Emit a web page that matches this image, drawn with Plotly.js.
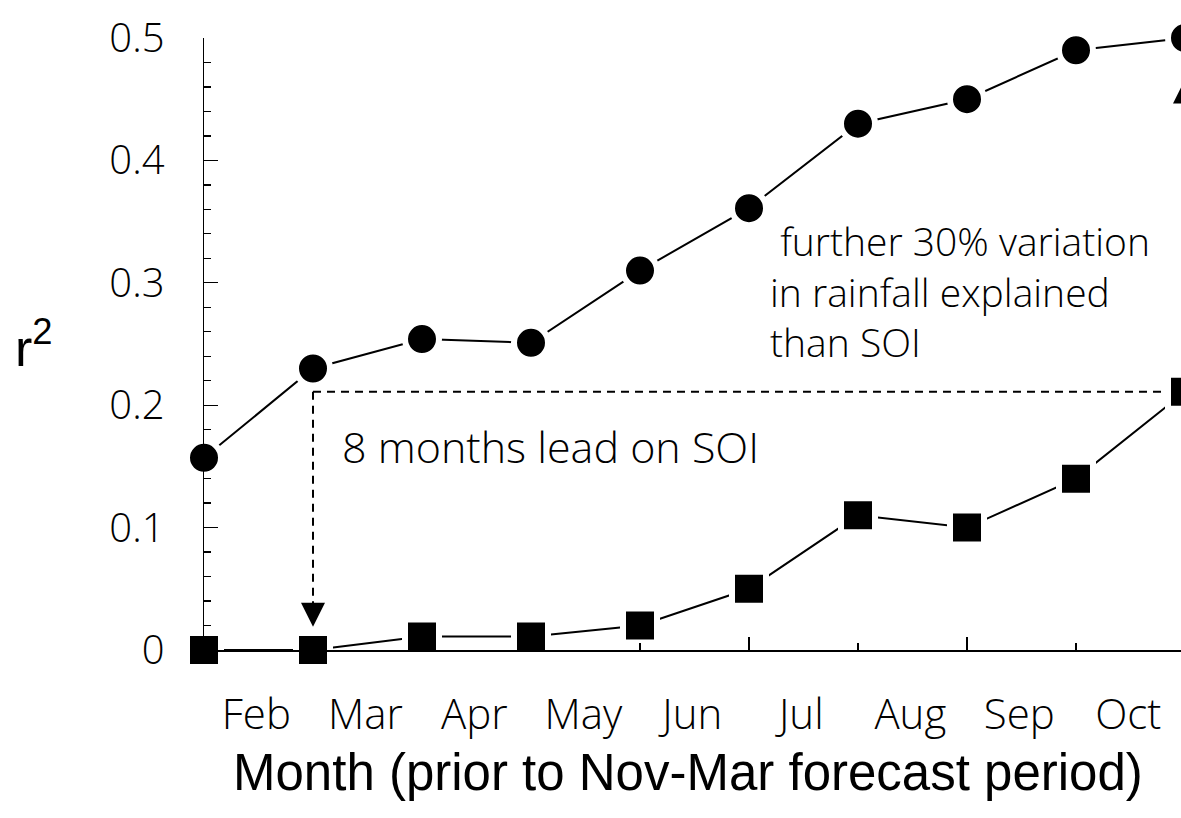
<!DOCTYPE html>
<html><head><meta charset="utf-8">
<script src="https://cdn.plot.ly/plotly-3.0.1.min.js"></script>
<style>html,body{margin:0;padding:0;background:#fff;overflow:hidden}</style>
</head><body><div id="chart" style="width:1210px;height:818px"></div>
<script>
// ---- data ----
const xIndex = [0, 1, 2, 3, 4, 5, 6, 7, 8, 9];
const monthLabels = ['Feb', 'Mar', 'Apr', 'May', 'Jun', 'Jul', 'Aug', 'Sep', 'Oct'];
const r2Rainfall = [0.157, 0.230, 0.254, 0.251, 0.310, 0.361, 0.430, 0.450, 0.490, 0.500];
const r2SOI = [0.000, 0.000, 0.011, 0.011, 0.020, 0.050, 0.110, 0.100, 0.140, 0.211];
const yTickVals = [0, 0.1, 0.2, 0.3, 0.4, 0.5];
const leadText = '8 months lead on SOI';
const gainText = ' further 30% variation<br>in rainfall explained<br>than SOI';
const xTitle = 'Month (prior to Nov-Mar forecast period)';

// ---- styling / layout ----
const figW = 1210, marginL = 204, pxPerMonth = 109;
const xRange = [0, (figW - marginL) / pxPerMonth];
const labelOffset = 0.48;
const monthPos = monthLabels.map((m, i) => i + labelOffset);
const majorX = xIndex.filter(v => v % 2 === 1);
const minorX = xIndex.filter(v => v % 2 === 0);
const light = {family: '"Open Sans", Lato, Roboto, sans-serif', size: 40, color: '#000', weight: 300};
const arial = {family: '"Liberation Sans", Arial, sans-serif', size: 51, color: '#000'};
const leadIdx = 1, lastIdx = xIndex.length - 1;

const markerBase = {color: '#000', size: 34, line: {color: '#fff', width: 6}};
const traces = [
  {x: xIndex, y: r2Rainfall, mode: 'lines+markers', cliponaxis: false,
   line: {color: '#000', width: 2}, marker: Object.assign({symbol: 'circle'}, markerBase), showlegend: false},
  {x: xIndex, y: r2SOI, mode: 'lines+markers', cliponaxis: false,
   line: {color: '#000', width: 2}, marker: Object.assign({symbol: 'square'}, markerBase), showlegend: false},
  {x: [], y: [], xaxis: 'x2', yaxis: 'y', showlegend: false, hoverinfo: 'skip'}
];

const annotations = [
  {x: xIndex[leadIdx], y: 0.019, xref: 'x', yref: 'y', text: '', showarrow: true,
   arrowhead: 2, arrowsize: 2.4, arrowwidth: 2, arrowcolor: '#000', ax: 0, ay: -27},
  {x: xIndex[lastIdx], y: 0.466, xref: 'x', yref: 'y', text: '', showarrow: true,
   arrowhead: 2, arrowsize: 2.4, arrowwidth: 2, arrowcolor: '#000', ax: 0, ay: 27},
  {x: 1.25, y: 0.166, xref: 'x', yref: 'y', text: leadText, showarrow: false,
   xanchor: 'left', yanchor: 'middle', font: Object.assign({}, light, {size: 43})},
  {x: 5.17, y: 0.2935, xref: 'x', yref: 'y', text: gainText, showarrow: false, align: 'left',
   xanchor: 'left', yanchor: 'middle', font: Object.assign({}, light, {size: 39})},
  {x: (688 - marginL) / (figW - marginL), y: -0.2, xref: 'paper', yref: 'paper', text: xTitle, showarrow: false,
   xanchor: 'center', yanchor: 'middle', font: arial},
  {x: -0.19, y: 0.5, xref: 'paper', yref: 'paper', text: 'r<sup>2</sup>', showarrow: false,
   xanchor: 'left', yanchor: 'middle', font: {family: '"Liberation Sans", Arial, sans-serif', size: 52, color: '#000'}}
];

const layout = {
  width: figW, height: 818,
  margin: {l: marginL, r: 0, t: 38, b: 168},
  paper_bgcolor: '#fff', plot_bgcolor: '#fff',
  showlegend: false,
  xaxis: {
    range: xRange, showline: true, linecolor: '#000', linewidth: 1.5,
    showgrid: false, zeroline: false,
    tickmode: 'array', tickvals: majorX, ticks: 'inside', ticklen: 13, tickwidth: 1.3, tickcolor: '#000',
    showticklabels: false,
    minor: {tickmode: 'array', tickvals: minorX, ticks: 'inside', ticklen: 7, tickwidth: 1.3, tickcolor: '#000', showgrid: false}
  },
  xaxis2: {
    range: xRange, overlaying: 'x', anchor: 'y', side: 'bottom',
    showline: false, showgrid: false, zeroline: false,
    tickmode: 'array', tickvals: monthPos, ticktext: monthLabels, ticks: '',
    tickfont: Object.assign({}, light, {size: 42}), ticklabelstandoff: 36
  },
  yaxis: {
    range: [0, 0.5], showline: true, linecolor: '#000', linewidth: 1.5,
    showgrid: false, zeroline: false,
    tickmode: 'array', tickvals: yTickVals, ticks: 'inside', ticklen: 14, tickwidth: 1.3, tickcolor: '#000',
    minor: {dtick: 0.02, tick0: 0, ticks: 'inside', ticklen: 7, tickwidth: 1.3, tickcolor: '#000', showgrid: false},
    tickfont: light, ticklabelstandoff: 30
  },
  shapes: [
    {type: 'line', xref: 'x', yref: 'y', layer: 'below',
     x0: xIndex[leadIdx], x1: xIndex[lastIdx], y0: r2SOI[lastIdx], y1: r2SOI[lastIdx],
     line: {color: '#000', width: 2, dash: '8px,6px'}},
    {type: 'line', xref: 'x', yref: 'y', layer: 'below',
     x0: xIndex[leadIdx], x1: xIndex[leadIdx], y0: r2SOI[lastIdx], y1: 0.04,
     line: {color: '#000', width: 2, dash: '8px,6px'}},
    {type: 'line', xref: 'x', yref: 'y', layer: 'below',
     x0: xIndex[lastIdx], x1: xIndex[lastIdx], y0: r2SOI[lastIdx], y1: 0.44,
     line: {color: '#000', width: 2, dash: '8px,6px'}}
  ],
  annotations: annotations
};

Plotly.newPlot('chart', traces, layout, {displayModeBar: false, staticPlot: true});
</script>
</body></html>
